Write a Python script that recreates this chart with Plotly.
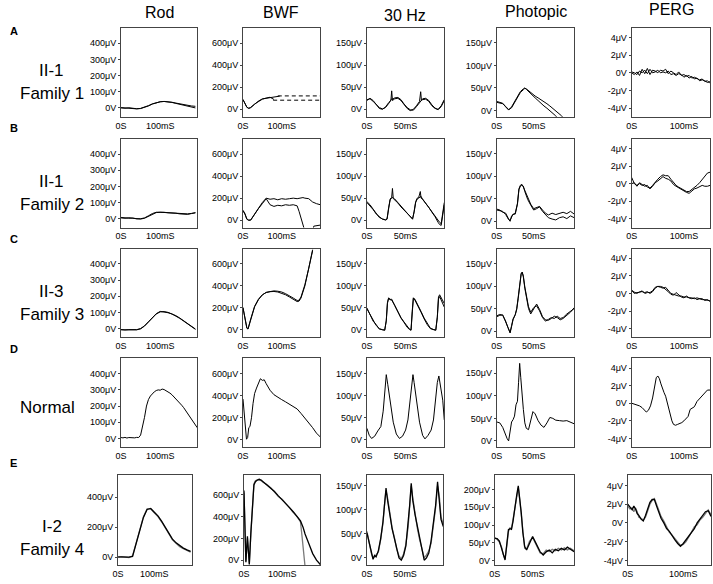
import plotly.graph_objects as go

W, H = 713, 584

# ---------------- data (time in ms, amplitude in µV) ----------------
COLUMNS = ["Rod", "BWF", "30 Hz", "Photopic", "PERG"]
ROW_LETTERS = ["A", "B", "C", "D", "E"]
ROW_NAMES = [["II-1", "Family 1"], ["II-1", "Family 2"], ["II-3", "Family 3"], ["Normal"], ["I-2", "Family 4"]]

# Rod
ROD_T = [0, 10, 20, 30, 40, 50, 60, 70, 80, 90, 100, 110, 120, 130, 140, 150, 160, 170, 180, 190]
ROD_A1 = [0, -2, 1, -3, -5, -4, 2, 12, 24, 33, 38, 40, 38, 34, 28, 22, 16, 10, 5, 0]
ROD_A2 = [2, -1, 0, -4, -6, -3, 4, 14, 25, 34, 38, 40, 39, 35, 30, 25, 20, 15, 12, 10]
ROD_B1 = [5, 3, 6, 2, 0, -2, 3, 15, 30, 38, 40, 38, 39, 36, 35, 33, 32, 30, 33, 36]
ROD_B2 = [8, 4, 3, 4, -1, 0, 5, 18, 32, 40, 41, 40, 37, 37, 34, 30, 28, 27, 32, 38]
ROD_C1 = [-8, -8, -8, -8, -8, -2, 15, 40, 68, 90, 103, 105, 100, 92, 80, 65, 48, 30, 12, -3]
ROD_C2 = [-6, -9, -7, -9, -7, 0, 17, 42, 70, 92, 106, 104, 98, 90, 78, 63, 46, 28, 10, -5]
ROD_D_T = [0, 5, 10, 15, 20, 25, 30, 35, 40, 45, 50, 55, 60, 65, 70, 75, 80, 85, 90, 95,
           100, 105, 110, 115, 120, 125, 130, 135, 140, 145, 150, 155, 160, 165, 170, 175, 180, 185, 190, 195]
ROD_D = [5, 3, 6, 2, 5, 4, 7, 3, 6, 5, 20, 70, 130, 200, 240, 262, 278, 288, 296, 300,
         298, 305, 302, 296, 290, 280, 270, 258, 245, 232, 220, 205, 190, 172, 155, 138, 120, 100, 82, 65]
ROD_E_T = [0, 10, 20, 30, 40, 50, 60, 70, 80, 90, 100, 110, 120, 130, 140, 150, 160, 170, 180, 190, 200]
ROD_E1 = [2, 0, -3, 0, 5, 90, 185, 265, 318, 325, 300, 275, 240, 200, 155, 120, 95, 75, 60, 48, 38]
ROD_E2 = [-2, 3, 0, -4, 8, 95, 190, 270, 322, 322, 296, 270, 236, 196, 150, 116, 92, 70, 56, 45, 33]

# BWF
BWF_A1_T = [0, 5, 10, 15, 20, 30, 40, 50, 60, 70, 80, 90, 95]
BWF_A1 = [90, 60, 20, 8, 15, 45, 75, 95, 100, 108, 112, 118, 120]
BWF_A2_T = [0, 5, 10, 15, 20, 30, 40, 50, 60, 70, 80]
BWF_A2 = [88, 55, 18, 10, 18, 48, 72, 92, 102, 110, 90]
BWF_A_HI_T = [90, 200]
BWF_A_HI = [122, 122]
BWF_A_LO_T = [78, 200]
BWF_A_LO = [83, 83]
BWF_B_T = [0, 5, 10, 15, 20, 25, 30, 40, 50, 60, 70, 80, 90, 100, 110, 120, 130, 140, 145, 150,
           155, 160, 170, 180, 183, 190, 200]
BWF_B1 = [90, 60, 10, 0, 2, 30, 60, 110, 160, 200, 190, 195, 185, 195, 190, 195, 200, 195, 198, 200,
          205, 200, 195, 165, 160, 150, 140]
BWF_B2 = [85, 55, 8, -2, 0, 28, 55, 105, 150, 195, 140, 125, 135, 130, 140, 135, 140, 130, 80, 20,
          -40, -100, -110, -110, -55, -50, -45]
BWF_C_T = [0, 3, 6, 10, 13, 16, 20, 30, 40, 50, 60, 70, 80, 90, 100, 110, 120, 130, 140, 145, 150, 160, 170, 180]
BWF_C1 = [200, 150, 70, 20, 10, 40, 100, 215, 280, 320, 340, 348, 350, 345, 335, 320, 300, 280, 258, 262, 290, 400, 550, 720]
BWF_C2 = [205, 140, 60, 15, 8, 45, 105, 210, 275, 318, 342, 352, 355, 352, 345, 330, 312, 290, 268, 270, 300, 410, 560, 730]
BWF_D_T = [0, 3, 6, 9, 12, 15, 18, 22, 26, 30, 35, 40, 45, 50, 55, 60, 70, 80, 90, 100,
           110, 120, 130, 140, 150, 160, 170, 180, 190, 200]
BWF_D = [370, 250, 60, 5, 20, 110, 120, 200, 330, 420, 470, 520, 555, 540, 545, 510, 450, 410, 385, 365,
         345, 325, 305, 280, 240, 200, 160, 110, 60, 25]
BWF_E1_T = [0, 2, 5, 9, 14, 18, 22, 26, 30, 35, 40, 45, 50, 60, 70, 80, 90, 100, 110, 120,
            130, 140, 148, 155, 160, 170, 180, 190, 200]
BWF_E1 = [640, 300, -20, 220, -40, 250, 540, 690, 720, 735, 740, 735, 720, 690, 660, 630, 590, 555, 520, 480,
          440, 400, 360, 300, 240, 150, 60, 0, -40]
BWF_E2_T = [0, 2, 5, 9, 14, 18, 22, 26, 30, 35, 40, 45, 50, 60, 70, 80, 90, 100, 110, 120,
            130, 140, 148, 152, 156, 160]
BWF_E2 = [620, 280, -10, 200, -30, 240, 530, 700, 730, 740, 745, 730, 715, 695, 665, 625, 585, 560, 515, 475,
          435, 395, 350, 220, 60, -60]

# 30 Hz flicker
HZ_A_T = [0, 4, 8, 12, 16, 20, 24, 28, 31, 32, 33, 36, 40, 44, 48, 52, 56, 60, 64, 68,
          69.5, 70.5, 72, 76, 80, 84, 88, 92, 96, 100]
HZ_A1 = [20, 25, 20, 10, 2, 0, 5, 15, 20, 42, 20, 24, 25, 20, 10, 2, -3, 0, 8, 18,
         40, 20, 22, 23, 18, 8, 2, 0, 8, 22]
HZ_A2 = [22, 24, 18, 12, 4, 1, 4, 13, 22, 24, 23, 26, 27, 22, 12, 4, -1, -2, 6, 16,
         20, 22, 24, 25, 20, 10, 3, -1, 6, 20]
HZ_B_T = [0, 4, 8, 12, 16, 20, 24, 26, 28, 30, 32, 33, 34, 36, 40, 44, 48, 52, 56, 59,
          61, 63, 65, 67, 69, 70, 72, 76, 80, 84, 88, 92, 94, 96, 98, 100]
HZ_B1 = [42, 35, 25, 15, 6, 3, 0, 2, 30, 48, 52, 72, 50, 48, 40, 32, 25, 16, 8, 2,
         20, 42, 50, 52, 65, 50, 48, 38, 30, 20, 10, 0, -5, -8, 20, 40]
HZ_B2 = [40, 33, 24, 14, 7, 2, 1, 3, 28, 46, 50, 52, 49, 46, 39, 30, 23, 15, 7, 3,
         18, 40, 48, 50, 52, 54, 47, 39, 29, 18, 8, -5, -10, -12, 10, 35]
HZ_C_T = [0, 4, 8, 12, 16, 20, 23, 25, 26.5, 28, 30, 32, 36, 40, 44, 48, 52, 55, 57, 58.5,
          60, 62, 66, 70, 74, 78, 82, 86, 89, 91, 92.5, 94, 97, 100]
HZ_C1 = [48, 35, 22, 10, 3, 0, 0, 20, 60, 73, 68, 70, 55, 40, 28, 18, 8, 2, -1, 40,
         73, 68, 55, 40, 25, 12, 3, 0, -1, 30, 75, 80, 70, 60]
HZ_C2 = [50, 36, 20, 12, 2, 1, -1, 22, 62, 72, 70, 68, 56, 42, 27, 17, 6, 1, 0, 42,
         72, 70, 57, 42, 27, 14, 4, 1, 0, 28, 70, 76, 65, 52]
HZ_D_T = [0, 3, 6, 10, 14, 18, 21, 23, 25, 27, 30, 34, 38, 42, 46, 50, 53, 56, 58, 59.5,
          61, 64, 68, 72, 75, 79, 83, 86, 89, 91, 93, 95, 98, 100]
HZ_D = [26, 10, 3, 8, 20, 30, 65, 115, 148, 125, 85, 40, 13, 3, 8, 22, 45, 95, 135, 148,
        130, 90, 40, 10, 2, 10, 22, 45, 90, 130, 145, 125, 90, 45]
HZ_E_T = [0, 3, 6, 8, 10, 12, 15, 18, 21, 23, 25, 27, 30, 33, 36, 39, 42, 45, 48, 51,
          54, 56, 58, 60, 63, 66, 69, 72, 75, 78, 81, 84, 87, 90, 92.5, 95, 97, 100]
HZ_E1 = [52, 30, 5, -3, 5, 2, 15, 40, 75, 115, 145, 120, 85, 60, 40, 20, 0, -5, 5, 25,
         70, 110, 155, 120, 90, 65, 40, 15, -5, 0, 10, 35, 70, 110, 158, 120, 80, 65]
HZ_E2 = [55, 28, 8, 0, 2, 6, 12, 38, 72, 110, 140, 125, 88, 62, 42, 18, 4, -2, 8, 28,
         65, 105, 150, 125, 92, 62, 38, 18, 0, 6, 14, 30, 66, 105, 150, 125, 85, 70]

# Photopic
PH_A_T = [0, 4, 8, 12, 16, 20, 24, 28, 32, 36, 38, 40, 44, 48, 52, 56, 60, 64, 68, 72, 76, 80, 84, 88, 92, 96]
PH_A1 = [20, 18, 16, 8, 1, 8, 20, 30, 42, 48, 50, 47, 40, 33, 28, 22, 15, 10, 5, 0, -6, -12, -20, -25, -30, -30]
PH_A2 = [18, 17, 15, 9, 2, 6, 18, 28, 40, 46, 49, 48, 42, 37, 32, 28, 24, 20, 15, 10, 5, 0, -6, -12, -20, -25]
PH_B_T = [0, 4, 8, 12, 16, 18, 20, 22, 25, 28, 30, 32, 34, 36, 38, 42, 46, 50, 54, 58,
          62, 66, 70, 75, 80, 85, 90, 95, 100, 105]
PH_B1 = [27, 25, 20, 18, 5, 0, 12, 15, 18, 40, 72, 80, 82, 76, 68, 50, 38, 28, 30, 33,
         25, 18, 14, 18, 15, 18, 20, 17, 22, 16]
PH_B2 = [25, 24, 22, 15, 4, 2, 10, 16, 16, 38, 70, 78, 80, 78, 66, 48, 36, 25, 28, 32,
         22, 14, 8, 5, 3, 8, 10, 6, 12, 8]
PH_C_T = [0, 4, 8, 12, 15, 18, 20, 22, 25, 27, 29, 31, 33, 34.5, 36, 38, 40, 43, 46, 50,
          54, 58, 62, 66, 70, 74, 78, 82, 86, 90, 95, 100, 105]
PH_C1 = [34, 37, 35, 22, 8, -4, 10, 25, 37, 50, 75, 110, 128, 131, 120, 95, 75, 50, 38, 50,
         60, 48, 32, 25, 24, 28, 33, 30, 25, 28, 35, 42, 52]
PH_C2 = [32, 35, 36, 20, 6, -3, 12, 27, 36, 48, 72, 108, 126, 130, 122, 98, 78, 54, 42, 52,
         56, 45, 30, 22, 26, 30, 28, 33, 28, 30, 38, 45, 50]
PH_D_T = [0, 4, 8, 11, 14, 16, 18, 20, 22, 24, 26, 28, 29.5, 31, 32.5, 34, 36, 38, 40, 43,
          46, 49, 52, 56, 60, 64, 68, 72, 76, 80, 85, 90, 95, 100, 105]
PH_D = [42, 40, 30, 15, 5, 0, 20, 42, 47, 55, 80, 88, 130, 172, 140, 100, 70, 40, 28, 25,
        45, 65, 60, 45, 35, 30, 40, 52, 50, 46, 45, 44, 45, 42, 38]
PH_E_T = [0, 3, 6, 9, 11, 13.5, 16, 18, 20, 22, 24, 26.5, 29, 31, 33, 35, 37, 39.5, 42, 46,
          50, 53, 56, 60, 64, 68, 72, 76, 80, 84, 88, 92, 96, 100, 105]
PH_E1 = [63, 62, 55, 35, 16, 2, 50, 87, 90, 88, 110, 153, 185, 210, 175, 134, 80, 40, 30, 50,
         68, 55, 40, 25, 16, 25, 30, 22, 32, 28, 35, 30, 38, 32, 25]
PH_E2 = [65, 60, 52, 38, 18, 5, 45, 82, 92, 90, 115, 150, 190, 205, 170, 130, 75, 35, 33, 55,
         65, 52, 38, 22, 20, 30, 26, 32, 28, 35, 30, 36, 30, 35, 28]

# PERG
PERG_T = [0, 5, 10, 15, 20, 25, 30, 35, 40, 45, 50, 55, 60, 65, 70, 75, 80, 85, 90, 95,
          100, 105, 110, 115, 120, 125, 130, 135, 140, 145, 150]
PERG_A1 = [0, -0.2, 0.1, -0.3, 0.4, -0.1, 0.5, -0.2, 0.3, 0.2, 0.0, 0.3, 0.2, 0.4, -0.1, 0.2, 0.0, -0.2, 0.1, -0.3,
           -0.2, -0.4, -0.3, -0.6, -0.5, -0.7, -0.8, -0.7, -1.0, -0.9, -1.2]
PERG_A2 = [0.1, 0.0, -0.2, 0.2, 0.0, 0.3, -0.1, 0.4, 0.0, 0.1, 0.3, 0.0, 0.1, 0.0, 0.2, -0.2, -0.1, -0.3, -0.1, -0.2,
           -0.5, -0.3, -0.6, -0.4, -0.7, -0.6, -0.9, -0.8, -0.9, -1.1, -1.0]
PERG_B1 = [0.7, 0.0, -0.2, 0.0, -0.2, -0.1, -0.4, -0.5, -0.2, 0.2, 0.5, 0.8, 1.0, 0.9, 0.9, 0.5, 0.1, -0.2, -0.4, -0.6,
           -0.8, -0.9, -0.9, -0.7, -0.5, -0.2, 0.1, 0.5, 0.9, 1.2, 1.3]
PERG_B2 = [0.0, 0.1, -0.3, 0.1, -0.1, -0.3, -0.2, -0.6, -0.3, 0.1, 0.3, 0.6, 0.8, 0.6, 0.5, 0.3, -0.1, -0.3, -0.5, -0.7,
           -0.9, -1.0, -1.1, -0.8, -0.6, -0.5, -0.3, -0.2, -0.3, -0.3, -0.2]
PERG_C1 = [0.3, 0.1, 0.0, 0.2, 0.2, 0.1, 0.2, 0.0, 0.2, 0.6, 0.8, 0.7, 0.6, 0.7, 0.3, 0.0, -0.1, -0.2, -0.3, -0.3,
           -0.4, -0.4, -0.5, -0.5, -0.6, -0.5, -0.6, -0.7, -0.7, -0.8, -0.85]
PERG_C2 = [0.4, 0.0, 0.1, 0.1, 0.3, 0.0, 0.1, 0.1, 0.3, 0.7, 0.8, 0.8, 0.7, 0.5, 0.2, -0.1, -0.2, 0.1, -0.2, -0.4,
           -0.5, -0.3, -0.5, -0.6, -0.5, -0.7, -0.6, -0.6, -0.8, -0.7, -0.9]
PERG_D_T = [0, 5, 10, 15, 20, 25, 28, 32, 36, 40, 44, 47, 50, 53, 56, 59, 62, 65, 68, 71,
            74, 77, 80, 84, 88, 92, 96, 100, 104, 108, 112, 116, 120, 125, 130, 135, 140, 145, 150]
PERG_D = [0.0, -0.1, -0.2, -0.3, -0.5, -0.9, -1.0, -0.8, -0.3, 0.6, 2.0, 2.9, 3.1, 2.8, 2.2, 1.6, 1.2, 0.8, 0.1, -0.6,
          -1.4, -2.0, -2.4, -2.5, -2.4, -2.3, -2.2, -2.0, -1.7, -1.5, -0.7, -0.5, -0.4, 0.2, 0.5, 0.8, 1.1, 1.5, 1.5]
PERG_E_T = [0, 4, 8, 11, 14, 17, 20, 24, 28, 32, 36, 40, 44, 48, 52, 56, 60, 65, 70, 75,
            80, 85, 90, 95, 100, 105, 110, 115, 120, 125, 130, 135, 140, 145, 150]
PERG_E1 = [2.0, 1.7, 1.4, 1.8, 1.5, 1.0, 0.8, 0.4, 0.2, 0.8, 1.6, 2.2, 2.5, 2.5, 1.8, 1.1, 0.5, 0.0, -0.6, -0.9,
           -1.4, -1.8, -2.2, -2.5, -2.2, -1.8, -1.3, -1.0, -0.6, 0.0, 0.4, 0.8, 1.2, 1.3, 0.7]
PERG_E2 = [1.8, 1.5, 1.6, 1.2, 1.6, 1.2, 0.6, 0.5, 0.3, 0.6, 1.3, 2.0, 2.4, 2.6, 2.0, 1.3, 0.7, 0.2, -0.5, -1.0,
           -1.3, -1.7, -2.1, -2.4, -2.3, -2.0, -1.5, -0.9, -0.4, -0.2, 0.3, 0.6, 1.0, 1.4, 0.9]

# tick labels
ROD_YTICKS, ROD_YTEXT = [0, 100, 200, 300, 400], ["0V", "100μV", "200μV", "300μV", "400μV"]
ROD_E_YTICKS, ROD_E_YTEXT = [0, 200, 400], ["0V", "200μV", "400μV"]
BWF_YTICKS, BWF_YTEXT = [0, 200, 400, 600], ["0V", "200μV", "400μV", "600μV"]
HZ_YTICKS, HZ_YTEXT = [0, 50, 100, 150], ["0V", "50μV", "100μV", "150μV"]
PH_E_YTICKS, PH_E_YTEXT = [0, 50, 100, 150, 200], ["0V", "50μV", "100μV", "150μV", "200μV"]
PERG_YTICKS, PERG_YTEXT = [-4, -2, 0, 2, 4], ["-4μV", "-2μV", "0V", "2μV", "4μV"]
LONG_XTICKS, LONG_XTEXT = [0, 100], ["0S", "100mS"]
SHORT_XTICKS, SHORT_XTEXT = [0, 50], ["0S", "50mS"]

# ---------------- layout geometry (pixels) ----------------
COL_X_AD = [(116, 193), (239, 317), (364, 442), (495, 573), (631, 710)]
COL_X_E = [(113, 188), (240, 317), (364, 441), (493, 573), (627, 711)]
ROW_Y = [(28, 117), (139, 228), (249, 338), (359, 448), (476, 566)]

X_RANGES_AD = [[0, 195], [0, 200], [0, 100], [0, 105], [0, 150]]
X_RANGES_E = [[0, 205], [0, 200], [0, 100], [0, 105], [0, 150]]
Y_RANGES_AD = [[-55, 495], [-68, 740], [-17, 185], [-14, 183], [-5, 5.1]]
Y_RANGES_E = [[-53, 547], [-45, 780], [-15, 172], [-12, 240], [-4.5, 5.1]]

BLACK = dict(color="black", width=1)
GRAY = dict(color="#7a7a7a", width=1.3)
BLACK_E = dict(color="black", width=1.3)
DASH = dict(color="black", width=1, dash="4px,3px")

PANELS = [
    [  # A
        [(ROD_T, ROD_A1, BLACK), (ROD_T, ROD_A2, BLACK)],
        [(BWF_A1_T, BWF_A1, BLACK), (BWF_A2_T, BWF_A2, BLACK), (BWF_A_HI_T, BWF_A_HI, DASH), (BWF_A_LO_T, BWF_A_LO, DASH)],
        [(HZ_A_T, HZ_A2, BLACK), (HZ_A_T, HZ_A1, BLACK)],
        [(PH_A_T, PH_A1, BLACK), (PH_A_T, PH_A2, BLACK)],
        [(PERG_T, PERG_A1, BLACK), (PERG_T, PERG_A2, BLACK)],
    ],
    [  # B
        [(ROD_T, ROD_B1, BLACK), (ROD_T, ROD_B2, BLACK)],
        [(BWF_B_T, BWF_B1, BLACK), (BWF_B_T, BWF_B2, BLACK)],
        [(HZ_B_T, HZ_B1, BLACK), (HZ_B_T, HZ_B2, BLACK)],
        [(PH_B_T, PH_B1, BLACK), (PH_B_T, PH_B2, BLACK)],
        [(PERG_T, PERG_B1, BLACK), (PERG_T, PERG_B2, BLACK)],
    ],
    [  # C
        [(ROD_T, ROD_C1, BLACK), (ROD_T, ROD_C2, BLACK)],
        [(BWF_C_T, BWF_C1, BLACK), (BWF_C_T, BWF_C2, BLACK)],
        [(HZ_C_T, HZ_C1, BLACK), (HZ_C_T, HZ_C2, BLACK)],
        [(PH_C_T, PH_C1, BLACK), (PH_C_T, PH_C2, BLACK)],
        [(PERG_T, PERG_C1, BLACK), (PERG_T, PERG_C2, BLACK)],
    ],
    [  # D
        [(ROD_D_T, ROD_D, BLACK)],
        [(BWF_D_T, BWF_D, BLACK)],
        [(HZ_D_T, HZ_D, BLACK)],
        [(PH_D_T, PH_D, BLACK)],
        [(PERG_D_T, PERG_D, BLACK)],
    ],
    [  # E
        [(ROD_E_T, ROD_E2, GRAY), (ROD_E_T, ROD_E1, BLACK_E)],
        [(BWF_E2_T, BWF_E2, GRAY), (BWF_E1_T, BWF_E1, BLACK_E)],
        [(HZ_E_T, HZ_E2, GRAY), (HZ_E_T, HZ_E1, BLACK_E)],
        [(PH_E_T, PH_E2, GRAY), (PH_E_T, PH_E1, BLACK_E)],
        [(PERG_E_T, PERG_E2, GRAY), (PERG_E_T, PERG_E1, BLACK_E)],
    ],
]

Y_TICKS_AD = [(ROD_YTICKS, ROD_YTEXT), (BWF_YTICKS, BWF_YTEXT), (HZ_YTICKS, HZ_YTEXT),
              (HZ_YTICKS, HZ_YTEXT), (PERG_YTICKS, PERG_YTEXT)]
Y_TICKS_E = [(ROD_E_YTICKS, ROD_E_YTEXT), (BWF_YTICKS, BWF_YTEXT), (HZ_YTICKS, HZ_YTEXT),
             (PH_E_YTICKS, PH_E_YTEXT), (PERG_YTICKS, PERG_YTEXT)]
X_TICKS = [(LONG_XTICKS, LONG_XTEXT), (LONG_XTICKS, LONG_XTEXT), (SHORT_XTICKS, SHORT_XTEXT),
           (SHORT_XTICKS, SHORT_XTEXT), (LONG_XTICKS, LONG_XTEXT)]

FONT = "Arial, Liberation Sans, sans-serif"


def px_x(p):
    return p / W


def px_y(p):
    return 1 - p / H


fig = go.Figure()
layout_axes = {}
for r in range(5):
    for c in range(5):
        n = r * 5 + c + 1
        sx = "" if n == 1 else str(n)
        xr = COL_X_E[c] if r == 4 else COL_X_AD[c]
        yr = ROW_Y[r]
        yrange = Y_RANGES_E[c] if r == 4 else Y_RANGES_AD[c]
        xrange = X_RANGES_E[c] if r == 4 else X_RANGES_AD[c]
        ytv, ytt = Y_TICKS_E[c] if r == 4 else Y_TICKS_AD[c]
        xtv, xtt = X_TICKS[c]
        for (tx, ty, ln) in PANELS[r][c]:
            fig.add_trace(go.Scatter(x=tx, y=ty, mode="lines", line=ln,
                                     xaxis="x" + sx, yaxis="y" + sx,
                                     hoverinfo="skip", showlegend=False))
        layout_axes["xaxis" + sx] = dict(
            domain=[px_x(xr[0]), px_x(xr[1])], anchor="y" + sx, range=xrange,
            showline=True, mirror=True, linecolor="#444", linewidth=1,
            showgrid=False, zeroline=False, ticks="", tickvals=xtv, ticktext=xtt,
            tickfont=dict(family=FONT, size=9, color="black"), fixedrange=True)
        layout_axes["yaxis" + sx] = dict(
            domain=[px_y(yr[1]), px_y(yr[0])], anchor="x" + sx, range=yrange,
            showline=True, mirror=True, linecolor="#444", linewidth=1,
            showgrid=False, zeroline=False, ticks="outside", ticklen=2, tickcolor="#444",
            tickvals=ytv, ticktext=ytt,
            tickfont=dict(family=FONT, size=9, color="black"), fixedrange=True)

annotations = []
COL_TITLE_POS = [(155, 13), (277, 13), (402, 16), (535, 12), (671, 10)]
for name, (x, y) in zip(COLUMNS, COL_TITLE_POS):
    annotations.append(dict(text=name, x=px_x(x), y=px_y(y), xref="paper", yref="paper",
                            showarrow=False, xanchor="center", yanchor="middle",
                            font=dict(family=FONT, size=16, color="black")))
LETTER_Y = [31, 128, 239, 350, 464]
for letter, y in zip(ROW_LETTERS, LETTER_Y):
    annotations.append(dict(text="<b>%s</b>" % letter, x=px_x(8), y=px_y(y), xref="paper", yref="paper",
                            showarrow=False, xanchor="center", yanchor="middle",
                            font=dict(family=FONT, size=11, color="black")))
NAME_POS = [((46, 71), (46, 94)), ((46, 182), (46, 205)), ((46, 292), (46, 315)), ((42, 408),), ((46, 527), (46, 550))]
for names, poss in zip(ROW_NAMES, NAME_POS):
    for t, (x, y) in zip(names, poss):
        annotations.append(dict(text=t, x=px_x(x), y=px_y(y), xref="paper", yref="paper",
                                showarrow=False, xanchor="center", yanchor="middle",
                                font=dict(family=FONT, size=17, color="black")))

fig.update_layout(width=W, height=H, margin=dict(l=0, r=0, t=0, b=0),
                  paper_bgcolor="white", plot_bgcolor="white", showlegend=False,
                  annotations=annotations, **layout_axes)
fig.write_html("out.html", config={"displayModeBar": False, "staticPlot": True},
               post_script="document.body.style.margin='0';document.body.style.overflow='hidden';")
